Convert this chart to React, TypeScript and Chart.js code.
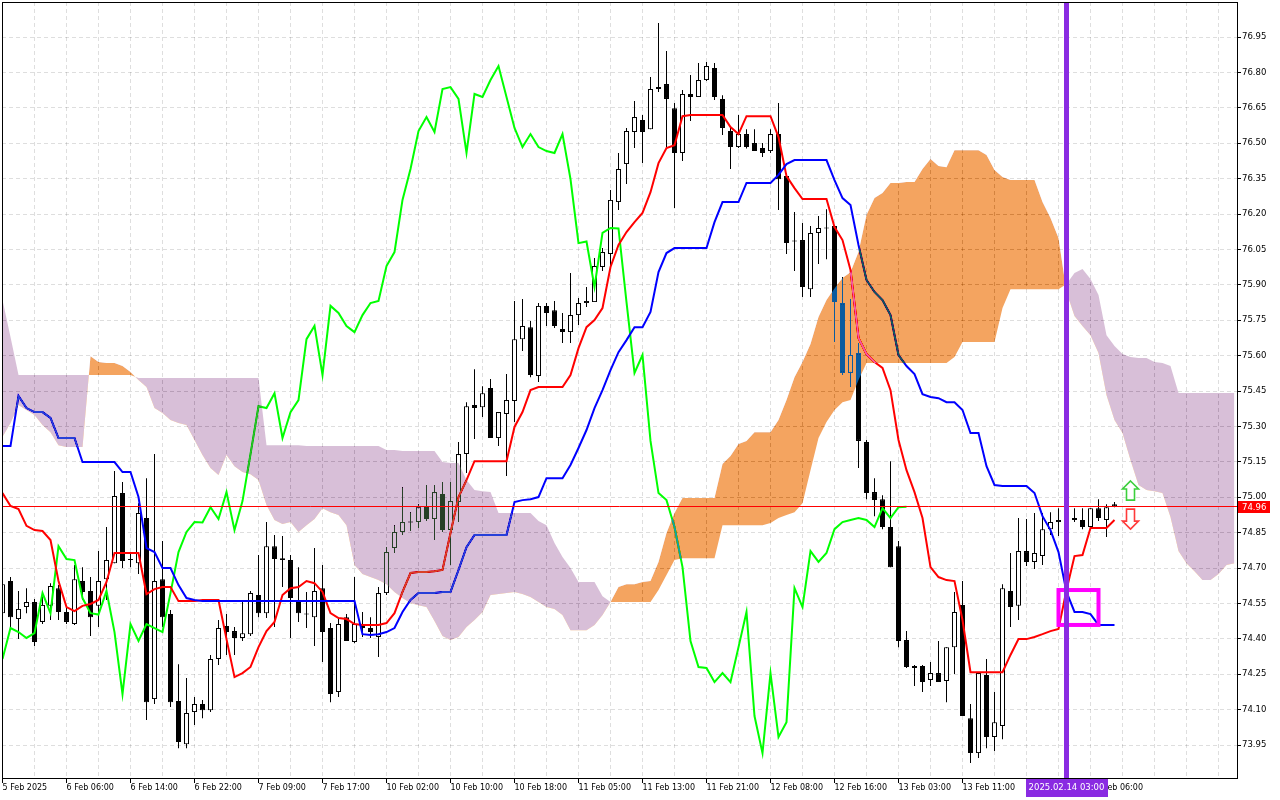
import React, { useEffect, useRef } from 'react';
import { Chart, registerables } from 'chart.js';

Chart.register(...registerables);

// ---- OHLC of the hourly candles (bar index = position in the arrays) ----
const openP = [
  74.509, 74.645, 74.484, 74.535, 74.556, 74.472, 74.540, 74.615, 74.514, 74.463,
  74.645, 74.603, 74.540, 74.653, 74.721, 75.018, 74.734, 74.721, 74.912, 74.145,
  74.653, 74.505, 74.137, 73.954, 74.090, 74.124, 74.098, 74.315, 74.455, 74.433,
  74.404, 74.420, 74.586, 74.509, 74.793, 74.742, 74.734, 74.556, 74.505, 74.492,
  74.615, 74.446, 74.175, 74.492, 74.387, 74.459, 74.446, 74.408, 74.594, 74.785,
  74.853, 74.895, 74.895, 74.963, 74.908, 75.014, 74.861, 74.980, 75.183, 75.391,
  75.382, 75.463, 75.251, 75.353, 75.408, 75.670, 75.721, 75.514, 75.811, 75.793,
  75.713, 75.700, 75.772, 75.823, 75.827, 75.976, 76.031, 76.251, 76.412, 76.548,
  76.599, 76.560, 76.730, 76.751, 76.649, 76.459, 76.709, 76.696, 76.768, 76.819,
  76.688, 76.552, 76.484, 76.539, 76.501, 76.480, 76.467, 76.539, 76.361, 76.086,
  76.090, 75.882, 76.120, 76.141, 76.149, 75.823, 75.527, 75.611, 75.234, 75.022,
  74.992, 74.874, 74.793, 74.395, 74.285, 74.285, 74.226, 74.255, 74.221, 74.365,
  74.544, 74.064, 73.916, 74.247, 73.984, 74.031, 74.603, 74.540, 74.772, 74.726,
  74.751, 74.865, 74.895, 74.904, 74.912, 74.904, 74.874, 74.954, 74.904, 74.971,
];
const highP = [
  74.658, 74.662, 74.603, 74.615, 74.569, 74.577, 74.636, 74.628, 74.544, 74.713,
  74.704, 74.662, 74.772, 74.874, 75.111, 75.065, 74.764, 74.975, 75.081, 75.183,
  74.815, 74.522, 74.293, 74.234, 74.154, 74.141, 74.332, 74.480, 74.505, 74.450,
  74.556, 74.603, 74.755, 74.895, 74.840, 74.836, 74.755, 74.704, 74.599, 74.785,
  74.713, 74.467, 74.484, 74.505, 74.662, 74.514, 74.492, 74.620, 74.789, 74.882,
  75.043, 74.937, 74.971, 75.052, 75.052, 75.065, 75.065, 75.234, 75.403, 75.543,
  75.471, 75.501, 75.361, 75.522, 75.832, 75.840, 75.747, 75.823, 75.823, 75.832,
  75.781, 75.950, 75.844, 75.891, 76.014, 76.056, 76.302, 76.459, 76.565, 76.679,
  76.620, 76.781, 77.010, 76.891, 76.671, 76.726, 76.789, 76.840, 76.844, 76.840,
  76.704, 76.569, 76.620, 76.560, 76.560, 76.501, 76.560, 76.671, 76.374, 76.209,
  76.162, 76.149, 76.192, 76.221, 76.152, 75.933, 75.840, 75.654, 75.243, 75.081,
  75.009, 75.153, 74.815, 74.433, 74.289, 74.289, 74.302, 74.391, 74.365, 74.599,
  74.645, 74.124, 74.255, 74.315, 74.175, 74.632, 74.764, 74.912, 74.908, 74.933,
  74.933, 74.937, 74.954, 74.946, 74.954, 74.954, 74.954, 74.992, 74.971, 74.980,
];
const lowP = [
  74.488, 74.450, 74.399, 74.509, 74.370, 74.463, 74.480, 74.480, 74.463, 74.459,
  74.565, 74.412, 74.450, 74.565, 74.721, 74.700, 74.704, 74.675, 74.056, 74.124,
  74.450, 74.111, 73.937, 73.937, 74.035, 74.064, 74.090, 74.289, 74.332, 74.332,
  74.391, 74.412, 74.492, 74.488, 74.450, 74.620, 74.404, 74.472, 74.446, 74.370,
  74.302, 74.132, 74.154, 74.391, 74.382, 74.408, 74.404, 74.323, 74.586, 74.764,
  74.840, 74.857, 74.870, 74.899, 74.819, 74.853, 74.713, 74.895, 75.103, 75.247,
  75.340, 75.251, 75.217, 75.090, 75.319, 75.620, 75.509, 75.488, 75.726, 75.717,
  75.654, 75.654, 75.730, 75.806, 75.827, 75.959, 75.971, 76.217, 76.327, 76.480,
  76.416, 76.560, 76.717, 76.484, 76.226, 76.425, 76.594, 76.696, 76.764, 76.683,
  76.535, 76.391, 76.480, 76.478, 76.467, 76.442, 76.459, 76.217, 76.031, 75.959,
  75.849, 75.849, 75.988, 76.009, 75.658, 75.518, 75.467, 75.124, 74.992, 74.920,
  74.865, 74.704, 74.365, 74.277, 74.200, 74.175, 74.200, 74.217, 74.132, 74.251,
  74.073, 73.874, 73.895, 73.937, 73.925, 73.975, 74.450, 74.480, 74.709, 74.696,
  74.713, 74.840, 74.836, 74.878, 74.895, 74.865, 74.865, 74.899, 74.832, 74.958,
];
const closeP = [
  74.632, 74.492, 74.527, 74.556, 74.387, 74.544, 74.624, 74.514, 74.472, 74.653,
  74.599, 74.492, 74.645, 74.734, 75.005, 74.730, 74.736, 74.933, 74.132, 74.645,
  74.492, 74.132, 73.963, 74.086, 74.124, 74.098, 74.315, 74.446, 74.429, 74.404,
  74.424, 74.594, 74.509, 74.793, 74.738, 74.734, 74.573, 74.509, 74.503, 74.603,
  74.429, 74.166, 74.463, 74.391, 74.463, 74.446, 74.429, 74.594, 74.768, 74.853,
  74.895, 74.893, 74.958, 74.908, 75.022, 74.861, 74.984, 75.183, 75.386, 75.378,
  75.441, 75.251, 75.361, 75.412, 75.670, 75.726, 75.518, 75.811, 75.781, 75.726,
  75.700, 75.772, 75.823, 75.832, 75.980, 76.039, 76.260, 76.391, 76.552, 76.611,
  76.548, 76.730, 76.738, 76.688, 76.459, 76.709, 76.696, 76.768, 76.827, 76.696,
  76.565, 76.484, 76.539, 76.484, 76.467, 76.459, 76.539, 76.348, 76.077, 76.084,
  75.891, 76.120, 76.141, 76.139, 75.827, 75.527, 75.603, 75.239, 75.018, 74.988,
  74.874, 74.704, 74.391, 74.281, 74.277, 74.217, 74.255, 74.217, 74.365, 74.514,
  74.073, 73.916, 74.255, 73.984, 74.047, 74.615, 74.535, 74.772, 74.726, 74.764,
  74.865, 74.895, 74.904, 74.912, 74.904, 74.874, 74.954, 74.912, 74.958, 74.960,
];

// ---- Ichimoku lines ----
const tenkan = [
  75.018, 74.963, 74.950, 74.879, 74.861, 74.857, 74.819, 74.645, 74.535, 74.518,
  74.540, 74.548, 74.565, 74.641, 74.764, 74.764, 74.764, 74.764, 74.590, 74.611,
  74.620, 74.620, 74.560, 74.560, 74.560, 74.565, 74.565, 74.565, 74.399, 74.238,
  74.255, 74.281, 74.365, 74.433, 74.472, 74.586, 74.615, 74.620, 74.645, 74.636,
  74.599, 74.509, 74.488, 74.484, 74.463, 74.459, 74.459, 74.459, 74.467, 74.509,
  74.599, 74.679, 74.683, 74.683, 74.687, 74.692, 74.849, 75.001, 75.073, 75.153,
  75.153, 75.153, 75.153, 75.153, 75.298, 75.361, 75.454, 75.467, 75.467, 75.467,
  75.467, 75.518, 75.632, 75.721, 75.751, 75.802, 75.976, 76.069, 76.124, 76.166,
  76.205, 76.293, 76.416, 76.480, 76.492, 76.615, 76.620, 76.620, 76.620, 76.620,
  76.620, 76.569, 76.539, 76.615, 76.615, 76.615, 76.615, 76.526, 76.361, 76.310,
  76.264, 76.264, 76.264, 76.264, 76.145, 76.090, 75.963, 75.675, 75.607, 75.573,
  75.548, 75.454, 75.243, 75.115, 75.022, 74.912, 74.704, 74.662, 74.649, 74.645,
  74.480, 74.259, 74.259, 74.259, 74.259, 74.259, 74.332, 74.399, 74.399, 74.408,
  74.420, 74.433, 74.442, 74.607, 74.751, 74.755, 74.870, 74.870, 74.870, 74.904,
];
const kijun = [
  75.217, 75.217, 75.429, 75.378, 75.361, 75.361, 75.336, 75.251, 75.251, 75.251,
  75.149, 75.149, 75.149, 75.149, 75.149, 75.107, 75.107, 75.001, 74.785, 74.768,
  74.700, 74.700, 74.628, 74.573, 74.565, 74.560, 74.560, 74.560, 74.560, 74.560,
  74.560, 74.560, 74.560, 74.560, 74.560, 74.560, 74.560, 74.560, 74.560, 74.560,
  74.560, 74.560, 74.560, 74.560, 74.560, 74.420, 74.416, 74.420, 74.429, 74.446,
  74.514, 74.565, 74.594, 74.594, 74.594, 74.599, 74.599, 74.692, 74.789, 74.840,
  74.840, 74.840, 74.840, 74.840, 74.980, 74.988, 74.992, 75.001, 75.081, 75.081,
  75.081, 75.137, 75.209, 75.285, 75.378, 75.454, 75.539, 75.615, 75.666, 75.721,
  75.721, 75.785, 75.954, 76.035, 76.056, 76.056, 76.056, 76.056, 76.056, 76.166,
  76.251, 76.251, 76.251, 76.332, 76.332, 76.332, 76.332, 76.366, 76.412, 76.429,
  76.429, 76.429, 76.429, 76.429, 76.344, 76.268, 76.238, 76.069, 75.921, 75.870,
  75.836, 75.772, 75.603, 75.556, 75.522, 75.437, 75.425, 75.420, 75.403, 75.403,
  75.370, 75.272, 75.272, 75.132, 75.052, 75.048, 75.048, 75.048, 75.048, 75.018,
  74.920, 74.861, 74.768, 74.599, 74.514, 74.514, 74.505, 74.459, 74.459, 74.459,
];
const chikou = [
  74.315, 74.446, 74.429, 74.404, 74.424, 74.594, 74.509, 74.793, 74.738, 74.734,
  74.573, 74.509, 74.503, 74.603, 74.429, 74.166, 74.463, 74.391, 74.463, 74.446,
  74.429, 74.594, 74.768, 74.853, 74.895, 74.893, 74.958, 74.908, 75.022, 74.861,
  74.984, 75.183, 75.386, 75.378, 75.441, 75.251, 75.361, 75.412, 75.670, 75.726,
  75.518, 75.811, 75.781, 75.726, 75.700, 75.772, 75.823, 75.832, 75.980, 76.039,
  76.260, 76.391, 76.552, 76.611, 76.548, 76.730, 76.738, 76.688, 76.459, 76.709,
  76.696, 76.768, 76.827, 76.696, 76.565, 76.484, 76.539, 76.484, 76.467, 76.459,
  76.539, 76.348, 76.077, 76.084, 75.891, 76.120, 76.141, 76.139, 75.827, 75.527,
  75.603, 75.239, 75.018, 74.988, 74.874, 74.704, 74.391, 74.281, 74.277, 74.217,
  74.255, 74.217, 74.365, 74.514, 74.073, 73.916, 74.255, 73.984, 74.047, 74.615,
  74.535, 74.772, 74.726, 74.764, 74.865, 74.895, 74.904, 74.912, 74.904, 74.874,
  74.954, 74.912, 74.958, 74.960,
];
const senkouA = [
  75.256, 75.315, 75.391, 75.370, 75.349, 75.306, 75.276, 75.221, 75.213, 75.213,
  75.213, 75.598, 75.573, 75.569, 75.569, 75.556, 75.531, 75.497, 75.467, 75.378,
  75.357, 75.327, 75.315, 75.306, 75.243, 75.179, 75.124, 75.094, 75.179, 75.132,
  75.107, 75.098, 75.073, 74.967, 74.904, 74.887, 74.895, 74.853, 74.882, 74.908,
  74.954, 74.937, 74.925, 74.882, 74.713, 74.675, 74.662, 74.649, 74.632, 74.599,
  74.573, 74.552, 74.543, 74.535, 74.476, 74.412, 74.395, 74.408, 74.450, 74.480,
  74.514, 74.586, 74.590, 74.594, 74.599, 74.590, 74.577, 74.556, 74.535, 74.527,
  74.501, 74.437, 74.437, 74.437, 74.459, 74.501, 74.556, 74.620, 74.632, 74.632,
  74.641, 74.645, 74.726, 74.849, 74.933, 74.997, 74.997, 74.997, 74.997, 74.997,
  75.141, 75.175, 75.226, 75.238, 75.276, 75.276, 75.276, 75.327, 75.412, 75.509,
  75.573, 75.649, 75.764, 75.836, 75.886, 75.929, 75.954, 76.039, 76.196, 76.268,
  76.289, 76.332, 76.332, 76.336, 76.336, 76.391, 76.433, 76.404, 76.399, 76.471,
  76.471, 76.471, 76.471, 76.450, 76.387, 76.357, 76.344, 76.344, 76.344, 76.344,
  76.251, 76.183, 76.099, 75.870, 75.768, 75.726, 75.687, 75.611, 75.433, 75.327,
  75.272, 75.158, 75.052, 75.031, 75.026, 75.018, 74.916, 74.772, 74.721, 74.687,
  74.649, 74.649, 74.675, 74.713, 74.721,
];
const senkouB = [
  75.836, 75.679, 75.518, 75.518, 75.518, 75.518, 75.518, 75.518, 75.518, 75.518,
  75.518, 75.518, 75.518, 75.518, 75.518, 75.518, 75.518, 75.505, 75.505, 75.505,
  75.505, 75.505, 75.505, 75.505, 75.505, 75.505, 75.505, 75.505, 75.505, 75.505,
  75.505, 75.505, 75.505, 75.221, 75.221, 75.221, 75.221, 75.221, 75.217, 75.217,
  75.217, 75.217, 75.217, 75.217, 75.217, 75.217, 75.217, 75.217, 75.200, 75.200,
  75.196, 75.196, 75.196, 75.196, 75.196, 75.149, 75.145, 75.145, 75.073, 75.031,
  75.026, 75.022, 74.933, 74.933, 74.933, 74.933, 74.933, 74.899, 74.882, 74.806,
  74.747, 74.700, 74.641, 74.641, 74.641, 74.581, 74.556, 74.556, 74.556, 74.556,
  74.556, 74.556, 74.607, 74.671, 74.734, 74.742, 74.742, 74.742, 74.742, 74.742,
  74.882, 74.882, 74.882, 74.882, 74.882, 74.882, 74.891, 74.912, 74.925, 74.937,
  74.975, 75.115, 75.251, 75.319, 75.370, 75.403, 75.412, 75.497, 75.569, 75.569,
  75.569, 75.569, 75.569, 75.569, 75.569, 75.569, 75.569, 75.569, 75.569, 75.594,
  75.658, 75.658, 75.658, 75.658, 75.658, 75.802, 75.882, 75.882, 75.882, 75.882,
  75.882, 75.882, 75.882, 75.904, 75.950, 75.967, 75.925, 75.857, 75.687, 75.641,
  75.607, 75.594, 75.590, 75.590, 75.573, 75.569, 75.556, 75.442, 75.442, 75.442,
  75.442, 75.442, 75.442, 75.442, 75.442,
];

// ---- axes ----
const timeTickBars = [0, 8, 16, 24, 32, 40, 48, 56, 64, 72, 80, 88, 96, 104, 112, 120, 128, 136];
const timeTickLabels = [
  '5 Feb 2025', '6 Feb 06:00', '6 Feb 14:00', '6 Feb 22:00', '7 Feb 09:00', '7 Feb 17:00',
  '10 Feb 02:00', '10 Feb 10:00', '10 Feb 18:00', '11 Feb 05:00', '11 Feb 13:00', '11 Feb 21:00',
  '12 Feb 08:00', '12 Feb 16:00', '13 Feb 03:00', '13 Feb 11:00', '13 Feb 19:00', '14 Feb 06:00',
];
const priceTicks = [
  73.95, 74.10, 74.25, 74.40, 74.55, 74.70, 74.85, 75.00, 75.15, 75.30, 75.45,
  75.60, 75.75, 75.90, 76.05, 76.20, 76.35, 76.50, 76.65, 76.80, 76.95,
];
const xBounds = [-0.0625, 154.3125];
const yBounds = [73.8105, 77.0987];
const gridEveryBars = 4;

// ---- annotations ----
const lastPrice = 74.96;
const markerBar = 133;
const markerLabel = '2025.02.14 03:00';
const boxBars = [132, 137];
const boxPrices = [74.607, 74.459];
const signalBar = 141;
const upArrowPrices = [75.069, 74.988];
const downArrowPrices = [74.950, 74.865];

const FONT = "'DejaVu Sans'";
// The cloud is blended in "difference" mode, so that white turns into
// sandy-brown / thistle and the candles and lines under it are inverted,
// the way the terminal paints it.
const CLOUD_UP_INV = 'rgb(11,91,159)';   // white -> #F4A460
const CLOUD_DOWN_INV = 'rgb(39,64,39)';  // white -> #D8BFD8
const IDX_A = 5;
const IDX_B = 6;

const pts = (arr: number[]) => arr.map((v, i) => ({ x: i, y: v }));

const overlayPlugin = {
  id: 'mtOverlay',
  beforeDraw(chart: any) {
    const { ctx, width, height } = chart;
    ctx.save();
    ctx.fillStyle = '#ffffff';
    ctx.fillRect(0, 0, width, height);
    ctx.restore();
  },
  beforeDatasetsDraw(chart: any) {
    const { ctx, chartArea: a, scales } = chart;
    const xs = scales.x, ys = scales.y;
    ctx.save();
    ctx.strokeStyle = 'rgba(0,0,0,0.13)';
    ctx.lineWidth = 1;
    ctx.setLineDash([4, 3]);
    ctx.beginPath();
    for (let b = gridEveryBars; b < xBounds[1]; b += gridEveryBars) {
      const x = Math.round(xs.getPixelForValue(b) - 0.5) + 0.5;
      ctx.moveTo(x, a.top);
      ctx.lineTo(x, a.bottom);
    }
    for (const p of priceTicks) {
      const y = Math.round(ys.getPixelForValue(p) - 0.5) + 0.5;
      ctx.moveTo(a.left, y);
      ctx.lineTo(a.right, y);
    }
    ctx.stroke();
    ctx.restore();
  },
  beforeDatasetDraw(chart: any, args: any) {
    if (args.index === IDX_A) chart.ctx.globalCompositeOperation = 'difference';
  },
  afterDatasetDraw(chart: any, args: any) {
    if (args.index === IDX_B) chart.ctx.globalCompositeOperation = 'source-over';
  },
  afterDatasetsDraw(chart: any) {
    const { ctx, chartArea: a, scales } = chart;
    const xs = scales.x, ys = scales.y;
    ctx.save();
    ctx.globalCompositeOperation = 'source-over';
    ctx.beginPath();
    ctx.rect(a.left, a.top, a.right - a.left, a.bottom - a.top);
    ctx.clip();
    // last price line
    const py = Math.round(ys.getPixelForValue(lastPrice) - 0.5) + 0.5;
    ctx.strokeStyle = '#ff0000';
    ctx.lineWidth = 1;
    ctx.beginPath();
    ctx.moveTo(a.left, py);
    ctx.lineTo(a.right, py);
    ctx.stroke();
    // magenta rectangle
    const rx1 = xs.getPixelForValue(boxBars[0]);
    const rx2 = xs.getPixelForValue(boxBars[1]);
    const ry1 = ys.getPixelForValue(boxPrices[0]);
    const ry2 = ys.getPixelForValue(boxPrices[1]);
    ctx.strokeStyle = '#ff00ff';
    ctx.lineWidth = 4;
    ctx.strokeRect(rx1, ry1, rx2 - rx1, ry2 - ry1);
    // vertical line
    const vx = xs.getPixelForValue(markerBar);
    ctx.strokeStyle = '#8a2be2';
    ctx.lineWidth = 5;
    ctx.beginPath();
    ctx.moveTo(vx, a.top);
    ctx.lineTo(vx, a.bottom);
    ctx.stroke();
    // arrows
    const cx = xs.getPixelForValue(signalBar);
    const drawArrow = (top: number, bottom: number, up: boolean, color: string) => {
      const head = 8, hw = 8, sw = 4;
      ctx.beginPath();
      if (up) {
        ctx.moveTo(cx, top);
        ctx.lineTo(cx + hw, top + head);
        ctx.lineTo(cx + sw, top + head);
        ctx.lineTo(cx + sw, bottom);
        ctx.lineTo(cx - sw, bottom);
        ctx.lineTo(cx - sw, top + head);
        ctx.lineTo(cx - hw, top + head);
      } else {
        ctx.moveTo(cx, bottom);
        ctx.lineTo(cx + hw, bottom - head);
        ctx.lineTo(cx + sw, bottom - head);
        ctx.lineTo(cx + sw, top);
        ctx.lineTo(cx - sw, top);
        ctx.lineTo(cx - sw, bottom - head);
        ctx.lineTo(cx - hw, bottom - head);
      }
      ctx.closePath();
      ctx.fillStyle = '#ffffff';
      ctx.fill();
      ctx.strokeStyle = color;
      ctx.lineWidth = 1.6;
      ctx.stroke();
    };
    drawArrow(ys.getPixelForValue(upArrowPrices[0]), ys.getPixelForValue(upArrowPrices[1]), true, '#3ccf3c');
    drawArrow(ys.getPixelForValue(downArrowPrices[0]), ys.getPixelForValue(downArrowPrices[1]), false, '#ff3a3a');
    ctx.restore();
  },
  afterDraw(chart: any) {
    const { ctx, chartArea: a, scales } = chart;
    const xs = scales.x, ys = scales.y;
    ctx.save();
    ctx.globalCompositeOperation = 'source-over';
    // frame
    ctx.strokeStyle = '#000000';
    ctx.lineWidth = 1;
    ctx.setLineDash([]);
    ctx.strokeRect(a.left + 0.5, a.top + 0.5, a.right - a.left, a.bottom - a.top);
    // tick marks
    ctx.beginPath();
    for (const p of priceTicks) {
      const y = Math.round(ys.getPixelForValue(p) - 0.5) + 0.5;
      ctx.moveTo(a.right, y);
      ctx.lineTo(a.right + 4, y);
    }
    for (const b of timeTickBars) {
      const x = Math.round(xs.getPixelForValue(b) - 0.5) + 0.5;
      ctx.moveTo(x, a.bottom);
      ctx.lineTo(x, a.bottom + 5);
    }
    ctx.stroke();
    // last price label
    const py = ys.getPixelForValue(lastPrice);
    ctx.fillStyle = '#ff0000';
    ctx.fillRect(a.right + 1, Math.round(py) - 6, 32, 12);
    ctx.fillStyle = '#ffffff';
    ctx.font = `8.5px ${FONT}`;
    ctx.textBaseline = 'middle';
    ctx.textAlign = 'left';
    ctx.fillText(lastPrice.toFixed(2), a.right + 5, Math.round(py) + 0.5);
    // vertical line time label
    const vx = xs.getPixelForValue(markerBar);
    ctx.font = `8.5px ${FONT}`;
    const tw = ctx.measureText(markerLabel).width;
    const bw = Math.max(tw + 6, 79);
    ctx.fillStyle = '#8a2be2';
    ctx.fillRect(Math.round(vx - bw / 2), a.bottom + 1, Math.round(bw), 18);
    ctx.fillStyle = '#ffffff';
    ctx.textAlign = 'center';
    ctx.fillText(markerLabel, vx, a.bottom + 10);
    ctx.restore();
  },
};

export default function App() {
  const ref = useRef<HTMLCanvasElement | null>(null);

  useEffect(() => {
    const canvas = ref.current;
    if (!canvas) return;
    const bodyColors = openP.map((o, i) => (closeP[i] >= o ? '#ffffff' : '#000000'));
    const chart = new Chart(canvas, {
      type: 'bar',
      data: {
        datasets: [
          {
            type: 'bar',
            label: 'wick',
            data: lowP.map((l, i) => ({ x: i, y: [l, highP[i]] })),
            backgroundColor: '#000000',
            borderWidth: 0,
            barThickness: 1,
            grouped: false,
            inflateAmount: 0,
            order: 10,
          } as any,
          {
            type: 'bar',
            label: 'body',
            data: openP.map((o, i) => ({ x: i, y: [o, closeP[i]] })),
            backgroundColor: bodyColors,
            borderColor: '#000000',
            borderWidth: 1,
            borderSkipped: false,
            barThickness: 5,
            minBarLength: 1,
            grouped: false,
            inflateAmount: 0,
            order: 9,
          } as any,
          {
            type: 'line',
            label: 'Chikou',
            data: pts(chikou),
            borderColor: '#00ff00',
            borderWidth: 2,
            pointRadius: 0,
            tension: 0,
            fill: false,
            order: 8,
          } as any,
          {
            type: 'line',
            label: 'Tenkan',
            data: pts(tenkan),
            borderColor: '#ff0000',
            borderWidth: 2,
            pointRadius: 0,
            tension: 0,
            fill: false,
            order: 7,
          } as any,
          {
            type: 'line',
            label: 'Kijun',
            data: pts(kijun),
            borderColor: '#0000ff',
            borderWidth: 2,
            pointRadius: 0,
            tension: 0,
            fill: false,
            order: 6,
          } as any,
          {
            type: 'line',
            label: 'Senkou A',
            data: pts(senkouA),
            borderColor: 'rgba(0,0,0,0)',
            borderWidth: 0,
            pointRadius: 0,
            tension: 0,
            fill: false,
            order: 2,
          } as any,
          {
            type: 'line',
            label: 'Senkou B',
            data: pts(senkouB),
            borderColor: 'rgba(0,0,0,0)',
            borderWidth: 0,
            pointRadius: 0,
            tension: 0,
            fill: { target: IDX_A, above: CLOUD_DOWN_INV, below: CLOUD_UP_INV },
            order: 1,
          } as any,
        ],
      },
      options: {
        responsive: false,
        animation: false,
        devicePixelRatio: 1,
        events: [],
        layout: { padding: { left: 2, top: 2, right: 0, bottom: 0 } },
        plugins: { legend: { display: false }, tooltip: { enabled: false } },
        scales: {
          x: {
            type: 'linear',
            position: 'bottom',
            min: xBounds[0],
            max: xBounds[1],
            offset: false,
            bounds: 'data',
            grid: { display: false, drawTicks: false, tickLength: 0 },
            border: { display: false },
            afterBuildTicks: (s: any) => {
              s.ticks = timeTickBars.map((v) => ({ value: v }));
            },
            afterFit: (s: any) => {
              s.height = 22;
              s.paddingLeft = 0;
              s.paddingRight = 0;
              s.paddingTop = 0;
              s.paddingBottom = 0;
            },
            ticks: {
              autoSkip: false,
              maxRotation: 0,
              minRotation: 0,
              align: 'start',
              padding: 5,
              color: '#000000',
              font: { family: FONT, size: 8 },
              callback: (v: any) => {
                const k = timeTickBars.indexOf(Number(v));
                return k >= 0 ? timeTickLabels[k] : '';
              },
            },
          } as any,
          y: {
            type: 'linear',
            position: 'right',
            min: yBounds[0],
            max: yBounds[1],
            bounds: 'data',
            beginAtZero: false,
            grid: { display: false, drawTicks: false, tickLength: 0 },
            border: { display: false },
            afterBuildTicks: (s: any) => {
              s.ticks = priceTicks.map((v) => ({ value: v }));
            },
            afterFit: (s: any) => {
              s.width = 43;
              s.paddingLeft = 0;
              s.paddingRight = 0;
              s.paddingTop = 0;
              s.paddingBottom = 0;
            },
            ticks: {
              autoSkip: false,
              padding: 5,
              color: '#000000',
              font: { family: FONT, size: 8.5 },
              callback: (v: any) => Number(v).toFixed(2),
            },
          } as any,
        },
      } as any,
      plugins: [overlayPlugin],
    });
    return () => chart.destroy();
  }, []);

  return (
    <div style={{ position: 'fixed', left: 0, top: 0, width: 1280, height: 800, background: '#ffffff' }}>
      <canvas ref={ref} width={1280} height={800} style={{ display: 'block', width: 1280, height: 800 }} />
    </div>
  );
}
